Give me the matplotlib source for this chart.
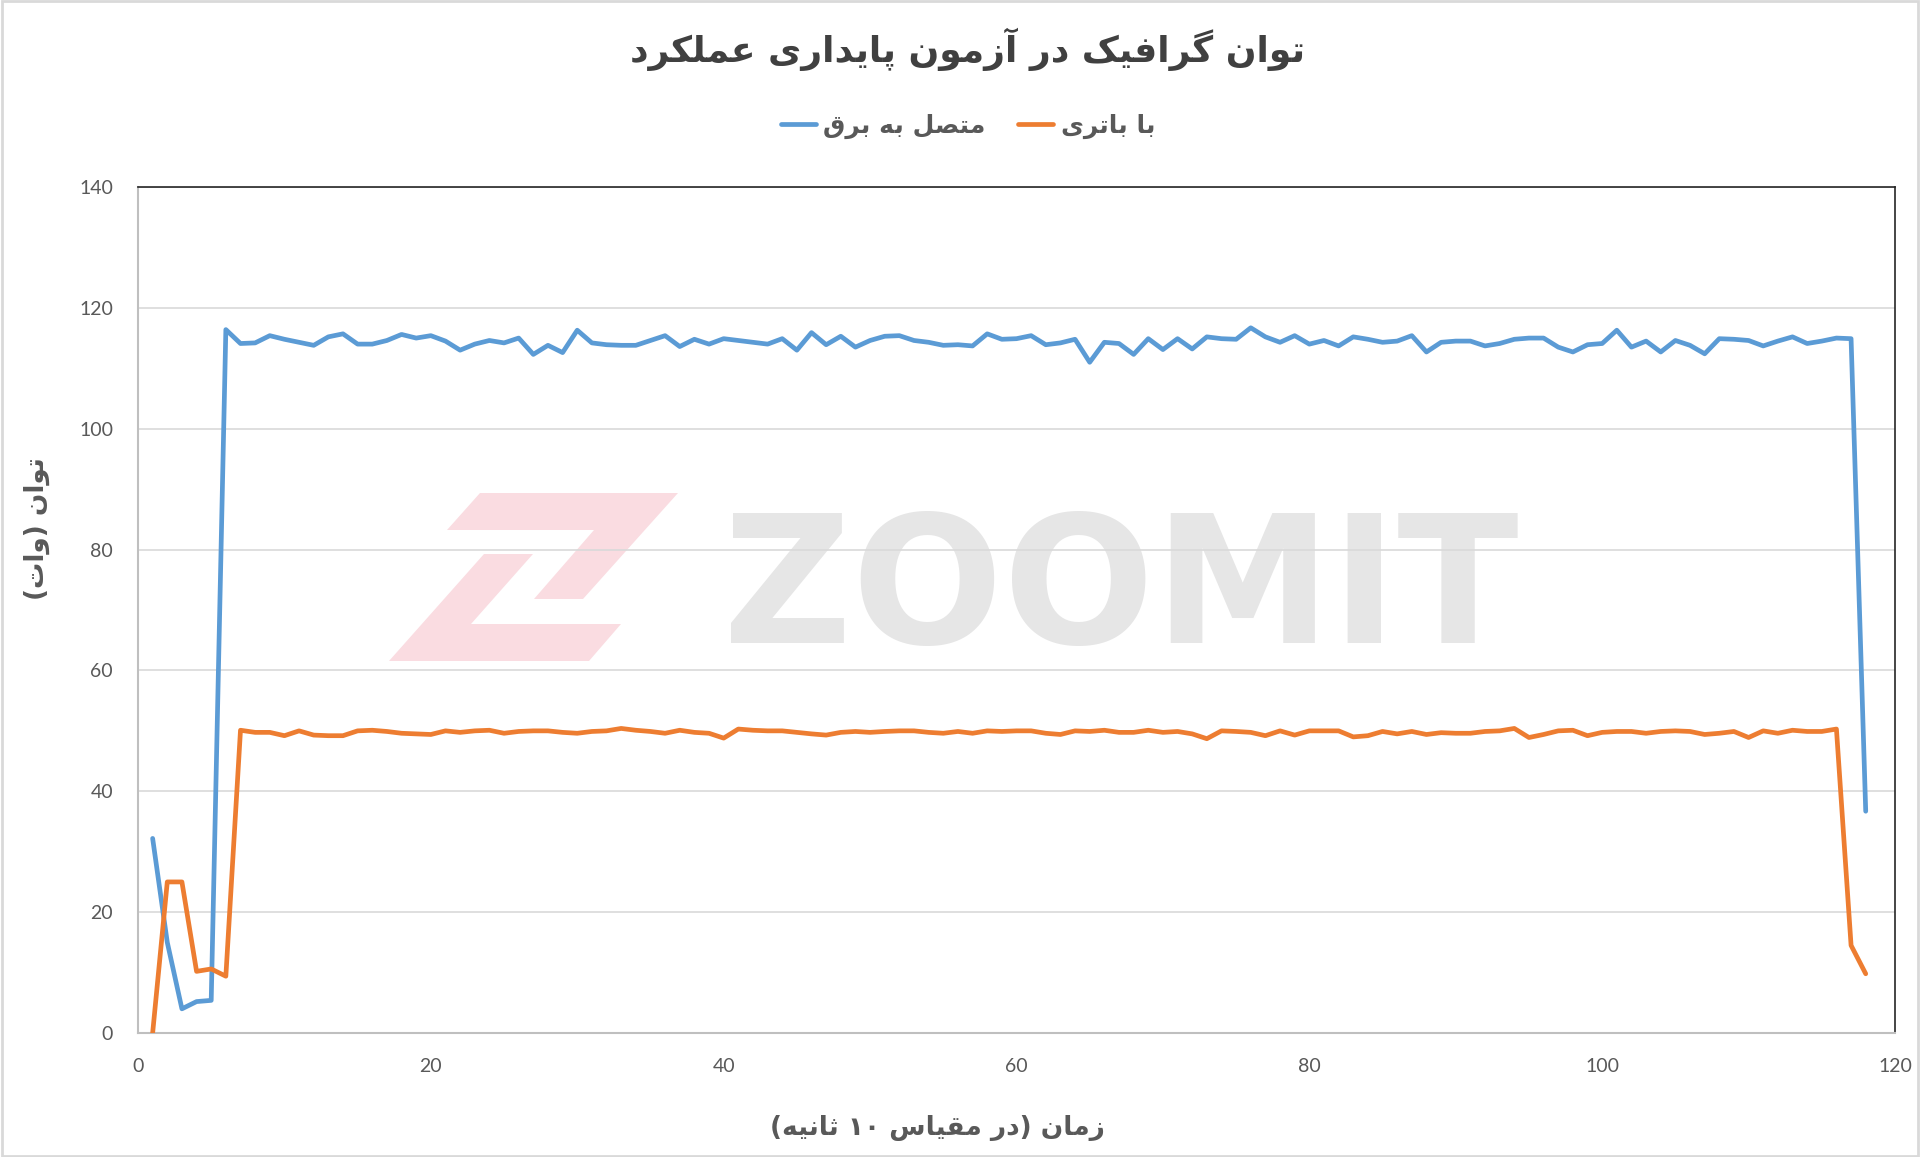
import numpy as np
import matplotlib
matplotlib.use("Agg")
import matplotlib.pyplot as plt
from matplotlib.patches import Polygon, Rectangle

# --- data ---
time_steps = np.arange(1, 119)

plugged_in = [
    32.2, 15.0, 4.0, 5.2, 5.4, 116.4, 114.1, 114.2, 115.4, 114.8,
    114.3, 113.8, 115.2, 115.7, 114.0, 114.0, 114.6, 115.6, 115.0, 115.4,
    114.5, 113.0, 114.0, 114.6, 114.2, 115.0, 112.3, 113.8, 112.6, 116.3,
    114.2, 113.9, 113.8, 113.8, 114.6, 115.4, 113.6, 114.8, 114.0, 114.9,
    114.6, 114.3, 114.0, 114.9, 113.0, 115.9, 113.9, 115.3, 113.5, 114.6,
    115.3, 115.4, 114.6, 114.3, 113.8, 113.9, 113.7, 115.7, 114.8, 114.9,
    115.4, 113.9, 114.2, 114.8, 111.0, 114.3, 114.1, 112.3, 114.9, 113.1,
    114.9, 113.2, 115.2, 114.9, 114.8, 116.7, 115.2, 114.3, 115.4, 114.0,
    114.6, 113.7, 115.2, 114.8, 114.3, 114.5, 115.4, 112.7, 114.3, 114.5,
    114.5, 113.7, 114.1, 114.8, 115.0, 115.0, 113.5, 112.7, 113.9, 114.1,
    116.3, 113.5, 114.5, 112.7, 114.6, 113.8, 112.4, 114.9, 114.8, 114.6,
    113.7, 114.5, 115.2, 114.1, 114.5, 115.0, 114.9, 36.7,
]

on_battery = [
    0.0, 25.0, 25.0, 10.2, 10.6, 9.4, 50.1, 49.75, 49.75, 49.2,
    50.0, 49.3, 49.2, 49.2, 50.0, 50.1, 49.9, 49.6, 49.5, 49.4,
    50.0, 49.75, 50.0, 50.1, 49.6, 49.9, 50.0, 50.0, 49.75, 49.6,
    49.9, 50.0, 50.4, 50.1, 49.9, 49.6, 50.1, 49.75, 49.6, 48.8,
    50.3, 50.1, 50.0, 50.0, 49.75, 49.5, 49.3, 49.75, 49.9, 49.75,
    49.9, 50.0, 50.0, 49.75, 49.6, 49.9, 49.6, 50.0, 49.9, 50.0,
    50.0, 49.6, 49.4, 50.0, 49.9, 50.1, 49.75, 49.75, 50.1, 49.75,
    49.9, 49.5, 48.7, 50.0, 49.9, 49.75, 49.2, 50.0, 49.3, 50.0,
    50.0, 50.0, 49.0, 49.2, 49.9, 49.5, 49.9, 49.4, 49.7, 49.6,
    49.6, 49.9, 50.0, 50.4, 48.9, 49.4, 50.0, 50.1, 49.2, 49.75,
    49.9, 49.9, 49.6, 49.9, 50.0, 49.9, 49.4, 49.6, 49.9, 48.9,
    50.0, 49.6, 50.1, 49.9, 49.9, 50.3, 14.5, 9.8,
]

x_ticks = [0, 20, 40, 60, 80, 100, 120]
y_ticks = [0, 20, 40, 60, 80, 100, 120, 140]

title = "توان گرافیک در آزمون پایداری عملکرد"
series_names = ["متصل به برق", "با باتری"]
x_label = "زمان (در مقیاس ۱۰ ثانیه)"
y_label = "توان (وات)"

# --- minimal Persian shaping (matplotlib has no bidi / joining support) ---
# forms: (isolated, final[, initial, medial])
FORMS = {
    "ا": ("\uFE8D", "\uFE8E"),
    "آ": ("\uFE81", "\uFE82"),
    "ب": ("\uFE8F", "\uFE90", "\uFE91", "\uFE92"),
    "پ": ("\uFB56", "\uFB57", "\uFB58", "\uFB59"),
    "ت": ("\uFE95", "\uFE96", "\uFE97", "\uFE98"),
    "ث": ("\uFE99", "\uFE9A", "\uFE9B", "\uFE9C"),
    "د": ("\uFEA9", "\uFEAA"),
    "ر": ("\uFEAD", "\uFEAE"),
    "ز": ("\uFEAF", "\uFEB0"),
    "س": ("\uFEB1", "\uFEB2", "\uFEB3", "\uFEB4"),
    "ص": ("\uFEB9", "\uFEBA", "\uFEBB", "\uFEBC"),
    "ع": ("\uFEC9", "\uFECA", "\uFECB", "\uFECC"),
    "ف": ("\uFED1", "\uFED2", "\uFED3", "\uFED4"),
    "ق": ("\uFED5", "\uFED6", "\uFED7", "\uFED8"),
    "ک": ("\uFB8E", "\uFB8F", "\uFB90", "\uFB91"),
    "گ": ("\uFB92", "\uFB93", "\uFB94", "\uFB95"),
    "ل": ("\uFEDD", "\uFEDE", "\uFEDF", "\uFEE0"),
    "م": ("\uFEE1", "\uFEE2", "\uFEE3", "\uFEE4"),
    "ن": ("\uFEE5", "\uFEE6", "\uFEE7", "\uFEE8"),
    "ه": ("\uFEE9", "\uFEEA", "\uFEEB", "\uFEEC"),
    "و": ("\uFEED", "\uFEEE"),
    "ی": ("\uFBFC", "\uFBFD", "\uFBFE", "\uFBFF"),
}
MIRROR = {"(": ")", ")": "("}


def fa(s):
    shaped = []
    for i, c in enumerate(s):
        f = FORMS.get(c)
        if f is None:
            shaped.append(c)
            continue
        prev = s[i - 1] if i > 0 else ""
        nxt = s[i + 1] if i + 1 < len(s) else ""
        jp = prev in FORMS and len(FORMS[prev]) == 4
        jn = len(f) == 4 and nxt in FORMS
        if jp and jn:
            shaped.append(f[3])
        elif jp:
            shaped.append(f[1])
        elif jn:
            shaped.append(f[2])
        else:
            shaped.append(f[0])
    # split into digit / non-digit runs, then lay out right-to-left
    runs, cur, cur_digit = [], "", None
    for c in shaped:
        d = c.isdigit()
        if cur and d != cur_digit:
            runs.append((cur, cur_digit))
            cur = ""
        cur += c
        cur_digit = d
    if cur:
        runs.append((cur, cur_digit))
    out = ""
    for text, is_digit in reversed(runs):
        if is_digit:
            out += text
        else:
            out += "".join(MIRROR.get(c, c) for c in reversed(text))
    return out


W, H = 1920, 1157


def fxy(px, py):
    return (px / W, 1 - py / H)


text_grey = "#595959"
blue = "#5b9bd5"
orange = "#ed7d31"

fig = plt.figure(figsize=(19.2, 11.57), dpi=100)
fig.patch.set_facecolor("white")

# watermark behind the plot
fig.text(*fxy(1121, 643), "ZOOMIT", fontsize=128, fontweight="bold",
         family="DejaVu Sans", color="#e6e6e6", ha="center", va="baseline", zorder=-2)
z_top = [(480, 493), (678, 493), (583, 599), (534, 599), (594, 530), (447, 530)]
z_bot = [(484, 554), (533, 554), (471, 624), (621, 624), (589, 661), (389, 661)]
for pts in (z_top, z_bot):
    fig.patches.append(Polygon([fxy(*p) for p in pts], closed=True, transform=fig.transFigure,
                               facecolor="#fadce1", edgecolor="none", zorder=-2))

ax = fig.add_axes([138 / W, 1 - 1033 / H, (1895 - 138) / W, (1033 - 187) / H])
ax.patch.set_visible(False)

ax.plot(time_steps, plugged_in, color=blue, lw=3.4, solid_joinstyle="round",
        solid_capstyle="round", label=fa(series_names[0]), zorder=3)
ax.plot(time_steps, on_battery, color=orange, lw=3.4, solid_joinstyle="round",
        solid_capstyle="round", label=fa(series_names[1]), zorder=3)

ax.set_xlim(0, 120)
ax.set_ylim(0, 140)
ax.set_xticks(x_ticks)
ax.set_yticks(y_ticks)
ax.grid(axis="y", color="#d9d9d9", lw=1.2)
ax.set_axisbelow(True)
ax.tick_params(length=0, labelsize=14, labelcolor=text_grey)
ax.tick_params(axis="y", pad=18)
ax.tick_params(axis="x", pad=18)
for lbl in ax.get_xticklabels() + ax.get_yticklabels():
    lbl.set_family("Lato")

for side in ("top", "right"):
    ax.spines[side].set_color("#262626")
    ax.spines[side].set_linewidth(1.2)
for side in ("left", "bottom"):
    ax.spines[side].set_color("#bfbfbf")
    ax.spines[side].set_linewidth(1.5)

fig.text(*fxy(967, 49), fa(title), fontsize=26, fontweight="bold", family="DejaVu Sans",
         color="#404040", ha="center", va="center")

leg = ax.legend(loc="center", bbox_to_anchor=fxy(968, 126), bbox_transform=fig.transFigure,
                ncol=2, frameon=False, handlelength=1.4, handletextpad=0.3, columnspacing=1.3,
                prop={"family": "DejaVu Sans", "weight": "bold", "size": 18})
for t in leg.get_texts():
    t.set_color(text_grey)

fig.text(*fxy(37, 529), fa(y_label), rotation=90, fontsize=19, fontweight="bold",
         family="DejaVu Sans", color=text_grey, ha="center", va="center")
fig.text(*fxy(937, 1128), fa(x_label), fontsize=19, fontweight="bold",
         family="DejaVu Sans", color=text_grey, ha="center", va="center")

fig.patches.append(Rectangle((0.0008, 0.0012), 0.9984, 0.9976, transform=fig.transFigure,
                             fill=False, edgecolor="#d9d9d9", lw=2, zorder=5))

fig.savefig("out.png", dpi=100)
